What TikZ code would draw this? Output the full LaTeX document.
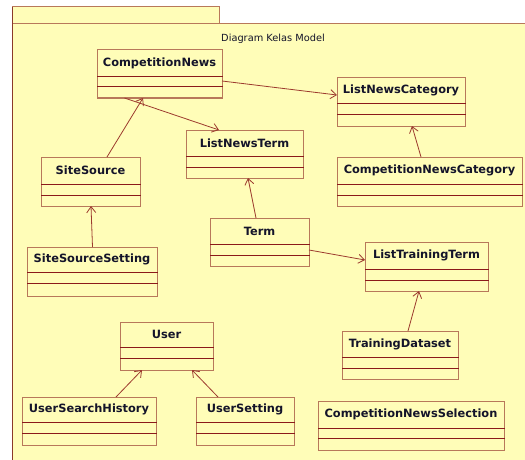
\documentclass[tikz,border=0pt]{standalone}
\usepackage{fontspec}
\setmainfont{DejaVu Sans}
\usetikzlibrary{arrows.meta}
\definecolor{pkgfill}{HTML}{FFFDB8}
\definecolor{boxline}{HTML}{B8785A}
\definecolor{sepline}{HTML}{8B1A1A}
\definecolor{linkcol}{HTML}{9C3A2E}
\definecolor{pkgedge}{HTML}{8B3A2A}
\definecolor{txtcol}{HTML}{14142A}
\tikzset{
  clsbox/.style={draw=boxline, fill=pkgfill, line width=1pt, inner sep=0pt, outer sep=0pt, rectangle},
  clssep/.style={draw=sepline, line width=0.8pt},
  clslabel/.style={font=\bfseries\fontsize{11.4}{13}\selectfont, text=txtcol, inner sep=0pt},
  dep/.style={draw=linkcol, line width=0.8pt, -{Straight Barb[length=6pt,width=9pt]}},
  pkgline/.style={draw=boxline, line width=1pt},
}
% #1 name, #2 left, #3 top, #4 right, #5 bottom, #6 first separator, #7 second separator, #8 class name
\newcommand\umlclass[8]{%
  \node[clsbox, minimum width={#4-#2}, minimum height={#5-#3}, anchor=north west] (#1) at (#2,#3) {};
  \draw[clssep] (#2,#6) -- (#4+1,#6) (#2,#7) -- (#4+1,#7);
  \node[clslabel] (#1-name) at ({(#2+#4)/2},{(#3+#6)/2}) {#8};
}
\begin{document}
\begin{tikzpicture}[x=1pt,y=-1pt]
\useasboundingbox (0,0) rectangle (525,460);
\clip (0,0) rectangle (525,460);
\fill[white] (0,0) rectangle (525,460);
% package frame
\fill[pkgfill] (12,7) rectangle (219,24);
\fill[pkgfill] (12,24) rectangle (530,465);
\draw[pkgline] (12,7) -- (219,7) -- (219,24);
\draw[pkgline] (12,24) -- (530,24);
\draw[draw=pkgedge, line width=1pt] (12,7) -- (12,465);
\node[font=\fontsize{9.8}{11}\selectfont, text=txtcol, inner sep=0pt] (title) at (273,38.5) {Diagram Kelas Model};
% classes
\umlclass{cn}{97}{50}{222}{98}{76}{86}{CompetitionNews}
\umlclass{lnc}{337}{78}{465}{126}{103}{114}{ListNewsCategory}
\umlclass{lnt}{186}{130}{303}{178}{156}{167}{ListNewsTerm}
\umlclass{ss}{41}{157}{140}{206}{184}{195}{SiteSource}
\umlclass{cnc}{337}{157}{522}{206}{184}{195}{CompetitionNewsCategory}
\umlclass{term}{210}{218}{309}{266}{244}{255}{Term}
\umlclass{sss}{27}{247}{157}{296}{272}{283}{SiteSourceSetting}
\umlclass{ltt}{365}{242}{488}{291}{269}{280}{ListTrainingTerm}
\umlclass{user}{120}{322}{213}{370}{347}{358}{User}
\umlclass{td}{342}{331}{458}{379}{357}{368}{TrainingDataset}
\umlclass{ush}{22}{397}{156}{445}{422}{433}{UserSearchHistory}
\umlclass{us}{196}{397}{294}{445}{422}{433}{UserSetting}
\umlclass{cns}{318}{401}{504}{450}{428}{438}{CompetitionNewsSelection}
% dependencies
\draw[dep] ([yshift=17pt]cn.south east) -- ([yshift=-17pt]lnc.north west);
\draw[dep] ([xshift=-35pt]cn.south) -- ([xshift=-25.5pt]lnt.north);
\draw[dep] ([xshift=16.5pt]ss.north) -- ([xshift=-16.5pt]cn.south);
\draw[dep] ([xshift=0.5pt]sss.north) -- ([xshift=0.5pt]ss.south);
\draw[dep] ([xshift=-3.5pt]term.north) -- ([xshift=3.5pt]lnt.south);
\draw[dep] ([yshift=-32pt]term.north east) -- ([yshift=-18pt]ltt.north west);
\draw[dep] ([xshift=-8.5pt]cnc.north) -- ([xshift=11pt]lnc.south);
\draw[dep] ([xshift=8pt]td.north) -- ([xshift=-7.5pt]ltt.south);
\draw[dep] ([xshift=27pt]ush.north) -- ([xshift=-24.5pt]user.south);
\draw[dep] ([xshift=-27pt]us.north) -- ([xshift=25.5pt]user.south);
\end{tikzpicture}
\end{document}
